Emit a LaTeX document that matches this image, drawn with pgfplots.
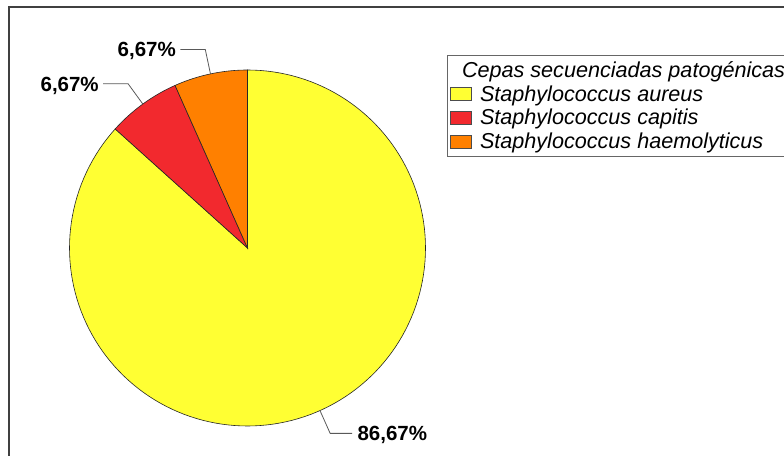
\documentclass[border=0pt]{standalone}
\usepackage{fontspec}
\setmainfont{Liberation Sans}
\usepackage{pgfplots}
\usepackage{pgfplotstable}
\pgfplotsset{compat=1.18}

\definecolor{aureus}{RGB}{255,255,51}
\definecolor{capitis}{RGB}{242,41,46}
\definecolor{haemo}{RGB}{255,128,0}
\definecolor{framegray}{RGB}{64,64,64}

% share of each pathogenic strain (%)
\pgfplotstableread{
strain        pct
aureus        86.67
capitis       6.67
haemolyticus  6.67
}\cepas

\begin{document}
\begin{tikzpicture}
\useasboundingbox (0pt,0pt) rectangle (784pt,455pt);
\clip (0pt,0pt) rectangle (784pt,455pt);
\draw[line width=2pt, framegray] (9pt,448pt) rectangle (800pt,-10pt);

\pgfplotstablegetelem{0}{pct}\of\cepas \let\pA\pgfplotsretval
\pgfplotstablegetelem{1}{pct}\of\cepas \let\pB\pgfplotsretval
\pgfplotstablegetelem{2}{pct}\of\cepas \let\pC\pgfplotsretval
% slices run counterclockwise from 12 o'clock: haemolyticus, capitis, aureus
\pgfmathsetmacro\aA{90}
\pgfmathsetmacro\aB{\aA+3.6*\pC}
\pgfmathsetmacro\aC{\aB+3.6*\pB}
\pgfmathsetmacro\aD{\aC+3.6*\pA}
\pgfmathsetmacro\mA{(\aC+\aD)/2}
\pgfmathsetmacro\mB{(\aB+\aC)/2}
\pgfmathsetmacro\mC{(\aA+\aB)/2}
\def\cx{247.5}\def\cy{207}\def\R{178}\def\Rl{203}
% leader line points
\pgfmathsetmacro\eAx{\cx+\R*cos(\mA)}\pgfmathsetmacro\eAy{\cy+\R*sin(\mA)}
\pgfmathsetmacro\kAx{\cx+\Rl*cos(\mA)}\pgfmathsetmacro\kAy{\cy+\Rl*sin(\mA)}
\pgfmathsetmacro\eBx{\cx+\R*cos(\mB)}\pgfmathsetmacro\eBy{\cy+\R*sin(\mB)}
\pgfmathsetmacro\kBx{\cx+\Rl*cos(\mB)}\pgfmathsetmacro\kBy{\cy+\Rl*sin(\mB)}
\pgfmathsetmacro\eCx{\cx+\R*cos(\mC)}\pgfmathsetmacro\eCy{\cy+\R*sin(\mC)}
\pgfmathsetmacro\kCx{\cx+\Rl*cos(\mC)}\pgfmathsetmacro\kCy{\cy+\Rl*sin(\mC)}
\pgfmathsetmacro\tAx{\kAx+22}\pgfmathsetmacro\tBx{\kBx-25}\pgfmathsetmacro\tCx{\kCx-25}

\begin{axis}[
  at={(0pt,0pt)}, anchor=south west,
  width=784pt, height=455pt, scale only axis,
  xmin=0, xmax=784, ymin=0, ymax=455,
  hide axis, clip=false,
  legend cell align=left,
  legend image code/.code={%
    \draw[#1, draw=black!70, line width=0.6pt] (0pt,-6.5pt) rectangle (21pt,6.5pt);
    \path (27pt,0pt);},
  legend style={at={(axis cs:447,400)}, anchor=north west,
    draw=black!60, line width=0.8pt, fill=white,
    inner xsep=3pt, inner ysep=3pt,
    nodes={inner sep=2pt, text height=17pt, text depth=2.7pt},
    font=\itshape\fontsize{21.6}{24}\selectfont},
]
\addlegendimage{empty legend}
\addlegendentry{\hspace*{-18pt}Cepas secuenciadas patogénicas}

\addplot[fill=aureus, draw=black!85, line width=0.6pt, domain=\aC:\aD, samples=150, variable=\t]
  ({\cx+\R*cos(\t)}, {\cy+\R*sin(\t)}) -- (axis cs:\cx,\cy) -- cycle;
\addlegendentry{Staphylococcus aureus}
\addplot[fill=capitis, draw=black!85, line width=0.6pt, domain=\aB:\aC, samples=20, variable=\t]
  ({\cx+\R*cos(\t)}, {\cy+\R*sin(\t)}) -- (axis cs:\cx,\cy) -- cycle;
\addlegendentry{Staphylococcus capitis}
\addplot[fill=haemo, draw=black!85, line width=0.6pt, domain=\aA:\aB, samples=20, variable=\t]
  ({\cx+\R*cos(\t)}, {\cy+\R*sin(\t)}) -- (axis cs:\cx,\cy) -- cycle;
\addlegendentry{Staphylococcus haemolyticus}

% percentage labels with leader lines
\pgfkeys{/pgf/number format/.cd, fixed, fixed zerofill, precision=2, use comma, assume math mode=true}
\tikzset{pct/.style={font=\bfseries\fontsize{20.5}{24}\selectfont, text=black, inner sep=0pt, yshift=-7.4pt}}
\draw[black!65, line width=0.8pt]
  (axis cs:\eAx,\eAy) -- (axis cs:\kAx,\kAy) -- (axis cs:\tAx,\kAy)
  node[pct, anchor=base west, xshift=5pt]{\pgfmathprintnumber{\pA}\%};
\draw[black!65, line width=0.8pt]
  (axis cs:\eBx,\eBy) -- (axis cs:\kBx,\kBy) -- (axis cs:\tBx,\kBy)
  node[pct, anchor=base east, xshift=-4pt]{\pgfmathprintnumber{\pB}\%};
\draw[black!65, line width=0.8pt]
  (axis cs:\eCx,\eCy) -- (axis cs:\kCx,\kCy) -- (axis cs:\tCx,\kCy)
  node[pct, anchor=base east, xshift=-4pt]{\pgfmathprintnumber{\pC}\%};
\end{axis}
\end{tikzpicture}
\end{document}
